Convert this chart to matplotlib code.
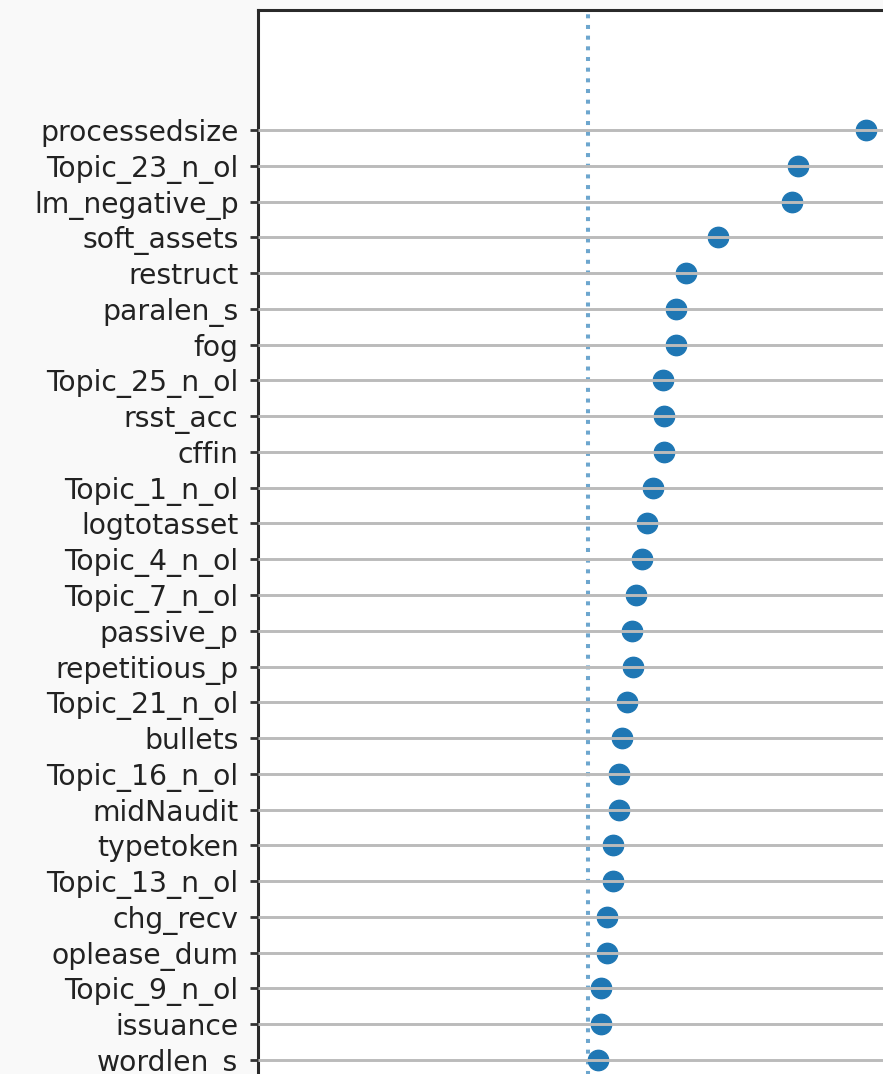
#!/usr/bin/env python3

import numpy as np
import matplotlib.pyplot as plt

features = [
    'processedsize', 'Topic_23_n_ol', 'lm_negative_p', 'soft_assets', 'restruct',
    'paralen_s', 'fog', 'Topic_25_n_ol', 'rsst_acc', 'cffin',
    'Topic_1_n_ol', 'logtotasset', 'Topic_4_n_ol', 'Topic_7_n_ol', 'passive_p',
    'repetitious_p', 'Topic_21_n_ol', 'bullets', 'Topic_16_n_ol', 'midNaudit',
    'typetoken', 'Topic_13_n_ol', 'chg_recv', 'oplease_dum', 'Topic_9_n_ol',
    'issuance', 'wordlen_s',
]
importance = [
    0.278, 0.210, 0.204, 0.130, 0.098,
    0.088, 0.088, 0.075, 0.076, 0.076,
    0.065, 0.059, 0.054, 0.048, 0.044,
    0.045, 0.039, 0.034, 0.031, 0.031,
    0.025, 0.025, 0.019, 0.019, 0.013,
    0.013, 0.010,
]


def main():
    W, H = 883, 1074
    fig = plt.figure(figsize=(W / 100, H / 100), dpi=100, facecolor='#f9f9f9')

    # axes runs past the right and bottom edges of the canvas
    left, top, right, bottom = 258, 10, 1000, 1100
    ax = fig.add_axes([left / W, 1 - bottom / H, (right - left) / W, (bottom - top) / H])

    y = np.arange(len(features))
    ax.axvline(x=0, c='C0', linestyle=':', lw=2.9, alpha=0.65, zorder=1)
    ax.scatter(importance, y, s=215, c='C0', zorder=2)

    ax.set_yticks(y)
    ax.set_yticklabels(features, fontsize=20.3, color='#222222')
    ax.set_xticks([])
    ax.set_xlim(-0.330, 0.412)
    ax.set_ylim(27.12, -3.355)

    ax.grid(axis='y', color='#bbbbbb', lw=2.1, zorder=3)
    ax.set_axisbelow(False)
    ax.tick_params(axis='y', length=6, width=2, pad=8, color='#333333')
    for s in ax.spines.values():
        s.set_linewidth(2.2)
        s.set_color('#2a2a2a')

    fig.savefig('out.png', dpi=100, facecolor=fig.get_facecolor())


if __name__ == '__main__':
    main()
